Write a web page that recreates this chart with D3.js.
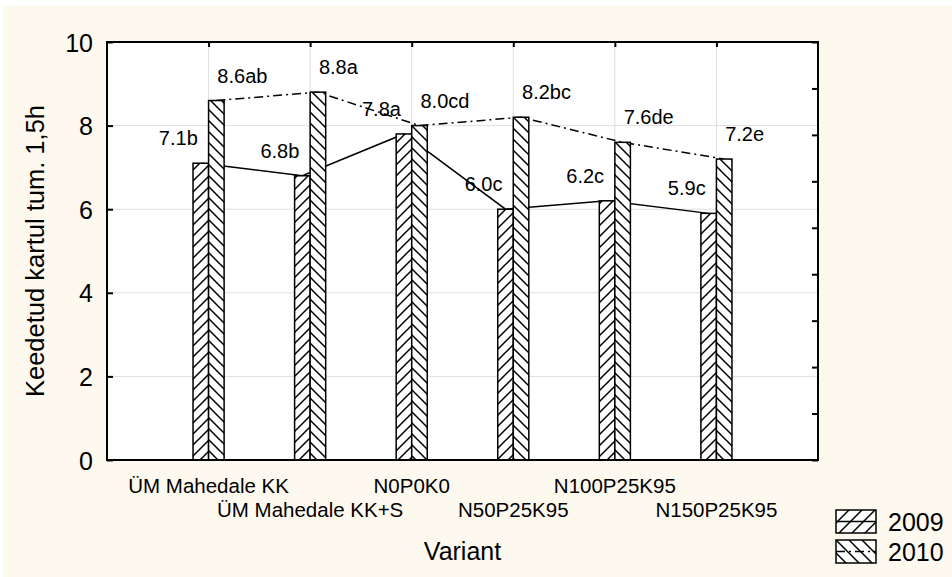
<!DOCTYPE html>
<html>
<head>
<meta charset="utf-8">
<script src="https://cdn.jsdelivr.net/npm/d3@7"></script>
<style>
  html, body { margin: 0; padding: 0; background: #ffffff; }
  svg { display: block; font-family: "Liberation Sans", Arial, sans-serif; }
</style>
</head>
<body>
<svg id="chart" width="952" height="577"></svg>
<script>
// Boiled potato darkening after 1.5 h, by fertilisation variant
const categories = ["ÜM Mahedale KK", "ÜM Mahedale KK+S", "N0P0K0", "N50P25K95", "N100P25K95", "N150P25K95"];
const years = ["2009", "2010"];
const values2009 = [7.1, 6.8, 7.8, 6.0, 6.2, 5.9];
const values2010 = [8.6, 8.8, 8.0, 8.2, 7.6, 7.2];
const letters2009 = ["b", "b", "a", "c", "c", "c"];
const letters2010 = ["ab", "a", "cd", "bc", "de", "e"];
const yTicks = [0, 2, 4, 6, 8, 10];

const svg = d3.select("#chart");
const W = 952, H = 577;
const plot = { left: 107, right: 818, top: 42, bottom: 460 };

// page background
svg.append("rect").attr("x", 3).attr("y", 6).attr("width", W - 3).attr("height", H - 6)
  .attr("fill", "#fef9ee");

// hatch patterns
const defs = svg.append("defs");
function hatch(id, dir, s) {
  const p = defs.append("pattern").attr("id", id)
    .attr("patternUnits", "userSpaceOnUse").attr("width", s).attr("height", s);
  p.append("rect").attr("width", s).attr("height", s).attr("fill", "#fff");
  const e = 3;
  const d = dir === "fwd"
    ? `M0,${s} L${s},0 M${-e},${e} L${e},${-e} M${s - e},${s + e} L${s + e},${s - e}`
    : `M0,0 L${s},${s} M${-e},${s - e} L${e},${s + e} M${s - e},${-e} L${s + e},${e}`;
  p.append("path").attr("d", d).attr("stroke", "#000").attr("stroke-width", 1.5);
}
hatch("h2009", "fwd", 11);
hatch("h2010", "back", 11);
hatch("lg2009", "fwd", 13);
hatch("lg2010", "back", 13);

const x = d3.scaleLinear().domain([0, categories.length + 1]).range([plot.left, plot.right]);
const y = d3.scaleLinear().domain([0, 10]).range([plot.bottom, plot.top]);
const yRight = d3.scaleLinear().domain([0, 9]).range([plot.bottom, plot.top]);
const barW = 0.153; // bar width in category units

// plot area
svg.append("rect").attr("x", plot.left).attr("y", plot.top)
  .attr("width", plot.right - plot.left).attr("height", plot.bottom - plot.top)
  .attr("fill", "#fff");

// grid
const grid = svg.append("g").attr("stroke", "#dedede").attr("stroke-width", 1);
grid.selectAll("line.h").data(yTicks.filter(t => t > 0 && t < 10)).join("line")
  .attr("x1", plot.left).attr("x2", plot.right)
  .attr("y1", d => y(d)).attr("y2", d => y(d));
grid.selectAll("line.v").data(categories).join("line")
  .attr("x1", (d, i) => x(i + 1)).attr("x2", (d, i) => x(i + 1))
  .attr("y1", plot.top).attr("y2", plot.bottom);

// connecting lines (behind bars)
const line2009 = d3.line().x((d, i) => x(i + 1 - barW / 2)).y(d => y(d));
const line2010 = d3.line().x((d, i) => x(i + 1 + barW / 2)).y(d => y(d));
svg.append("path").attr("d", line2009(values2009)).attr("fill", "none")
  .attr("stroke", "#000").attr("stroke-width", 1.5);
svg.append("path").attr("d", line2010(values2010)).attr("fill", "none")
  .attr("stroke", "#000").attr("stroke-width", 1.5).attr("stroke-dasharray", "9,4,2,4");

// bars
const bars = svg.append("g");
bars.selectAll("rect.b09").data(values2009).join("rect")
  .attr("x", (d, i) => x(i + 1 - barW)).attr("width", (d, i) => x(i + 1) - x(i + 1 - barW))
  .attr("y", d => y(d)).attr("height", d => y(0) - y(d))
  .attr("fill", "url(#h2009)").attr("stroke", "#000").attr("stroke-width", 1.5);
bars.selectAll("rect.b10").data(values2010).join("rect")
  .attr("x", (d, i) => x(i + 1)).attr("width", (d, i) => x(i + 1 + barW) - x(i + 1))
  .attr("y", d => y(d)).attr("height", d => y(0) - y(d))
  .attr("fill", "url(#h2010)").attr("stroke", "#000").attr("stroke-width", 1.5);

// value labels
const labels = svg.append("g").attr("font-size", 20).attr("fill", "#000");
labels.selectAll("text.l09").data(values2009).join("text")
  .attr("x", (d, i) => x(i + 1 - barW / 2) - 3).attr("y", d => y(d) - 18)
  .attr("text-anchor", "end")
  .text((d, i) => d.toFixed(1) + letters2009[i]);
labels.selectAll("text.l10").data(values2010).join("text")
  .attr("x", (d, i) => x(i + 1 + barW / 2) + 1).attr("y", d => y(d) - 18)
  .attr("text-anchor", "start")
  .text((d, i) => d.toFixed(1) + letters2010[i]);

// axes frame
svg.append("rect").attr("x", plot.left).attr("y", plot.top)
  .attr("width", plot.right - plot.left).attr("height", plot.bottom - plot.top)
  .attr("fill", "none").attr("stroke", "#000").attr("stroke-width", 2);

// left axis
const gLeft = svg.append("g").attr("transform", `translate(${plot.left},0)`)
  .call(d3.axisLeft(y).tickValues(yTicks).tickSize(-6).tickPadding(14).tickFormat(d3.format("d")));
gLeft.select(".domain").remove();
gLeft.selectAll("line").attr("stroke", "#000").attr("stroke-width", 2);
gLeft.selectAll("text").attr("font-size", 25).attr("font-family", "Liberation Sans, Arial, sans-serif")
  .attr("fill", "#000").attr("dy", "0.36em");

// right axis ticks
const gRight = svg.append("g").attr("transform", `translate(${plot.right},0)`)
  .call(d3.axisLeft(yRight).ticks(9).tickSize(6).tickFormat(""));
gRight.select(".domain").remove();
gRight.selectAll("line").attr("stroke", "#000").attr("stroke-width", 2);

// top axis ticks
const gTop = svg.append("g").attr("transform", `translate(0,${plot.top})`)
  .call(d3.axisTop(x).tickValues(categories.map((d, i) => i + 1)).tickSize(-5).tickFormat(""));
gTop.select(".domain").remove();
gTop.selectAll("line").attr("stroke", "#000").attr("stroke-width", 2);

// category labels, staggered in two rows
svg.append("g").attr("font-size", 20.5).selectAll("text").data(categories).join("text")
  .attr("x", (d, i) => x(i + 1)).attr("y", (d, i) => i % 2 === 0 ? 493 : 517)
  .attr("text-anchor", "middle").text(d => d);

// axis titles
svg.append("text").attr("x", (plot.left + plot.right) / 2).attr("y", 560)
  .attr("text-anchor", "middle").attr("font-size", 25).text("Variant");
svg.append("text").attr("transform", `translate(44,${(plot.top + plot.bottom) / 2}) rotate(-90)`)
  .attr("text-anchor", "middle").attr("font-size", 25.5).text("Keedetud kartul tum. 1,5h");

// legend
const legend = svg.append("g").attr("transform", "translate(836,510)");
years.forEach((yr, i) => {
  const g = legend.append("g").attr("transform", `translate(0,${i * 30})`);
  g.append("rect").attr("width", 40).attr("height", 23)
    .attr("fill", `url(#lg${yr})`).attr("stroke", "#000").attr("stroke-width", 1.5);
  g.append("line").attr("x1", 0).attr("x2", 40).attr("y1", 11.5).attr("y2", 11.5)
    .attr("stroke", "#000").attr("stroke-width", 1.5)
    .attr("stroke-dasharray", i === 1 ? "9,4,2,4" : null);
  g.append("text").attr("x", 52).attr("y", 21).attr("font-size", 25).text(yr);
});
</script>
</body>
</html>
